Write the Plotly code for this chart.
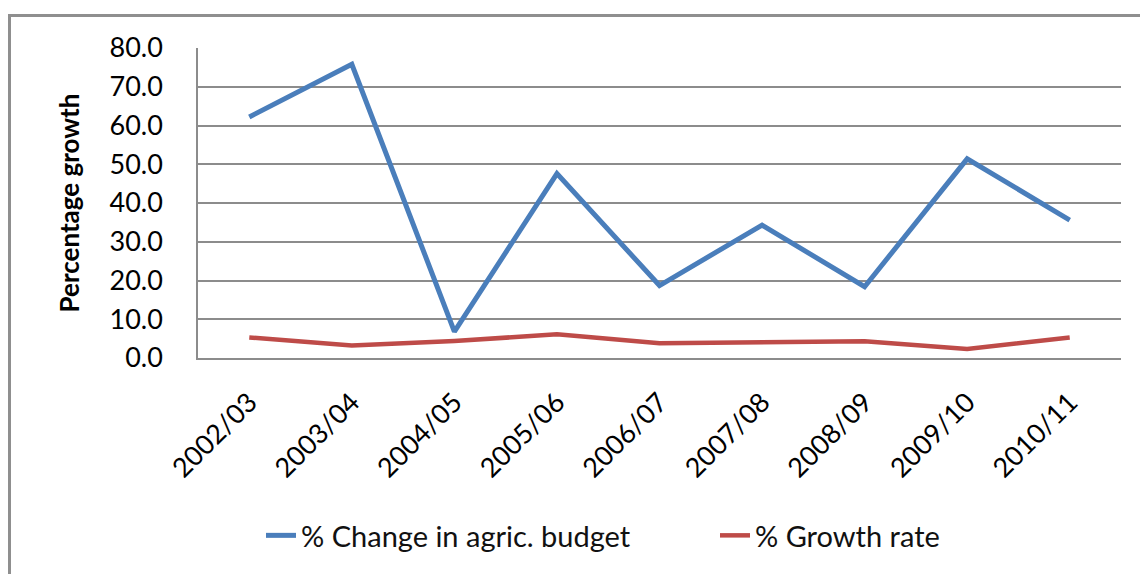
import plotly.graph_objects as go

# Fiscal years on the category axis
years = ["2002/03", "2003/04", "2004/05", "2005/06", "2006/07",
         "2007/08", "2008/09", "2009/10", "2010/11"]

# Annual % change in the agricultural budget
agric_budget_change = [62.2, 75.8, 6.8, 47.6, 18.7, 34.3, 18.4, 51.4, 35.6]

# Annual % growth rate
growth_rate = [5.3, 3.2, 4.4, 6.1, 3.8, 4.0, 4.3, 2.3, 5.3]

y_ticks = [0, 10, 20, 30, 40, 50, 60, 70, 80]

W, H = 1140, 574
L, R, T, B = 198, 19, 48, 216
plot_w = W - L - R
plot_h = H - T - B


def px_x(px):
    return (px - L) / plot_w


def px_y(py):
    return (H - B - py) / plot_h


FONT = "Lato, 'Open Sans', sans-serif"
GRID = "#8c8c8c"

fig = go.Figure()
fig.add_trace(go.Scatter(
    x=years, y=agric_budget_change, mode="lines",
    name="% Change in agric. budget",
    line=dict(color="#4A7EBB", width=5, shape="linear"),
))
fig.add_trace(go.Scatter(
    x=years, y=growth_rate, mode="lines",
    name="% Growth rate",
    line=dict(color="#BE4B48", width=4.5),
))

fig.update_layout(
    width=W, height=H,
    margin=dict(l=L, r=R, t=T, b=B),
    paper_bgcolor="white", plot_bgcolor="white",
    font=dict(family=FONT, color="#000000"),
    showlegend=True,
    legend=dict(
        orientation="h",
        xref="container", yref="container",
        x=261 / W, y=1 - 510 / H,
        xanchor="left", yanchor="top",
        font=dict(size=29, family=FONT, color="#111111"),
        entrywidth=409, entrywidthmode="pixels",
        bgcolor="rgba(0,0,0,0)",
    ),
    xaxis=dict(
        type="category",
        tickangle=-45,
        tickfont=dict(size=27, family=FONT, color="#000000"),
        showgrid=False,
        showline=True, linecolor=GRID, linewidth=1.5,
        ticks="",
        ticklabelstandoff=16,
        range=[-0.5, len(years) - 0.5],
        fixedrange=True,
    ),
    yaxis=dict(
        range=[0, 80],
        tickvals=y_ticks,
        tickformat=".1f",
        tickfont=dict(size=27, family=FONT, color="#000000"),
        showgrid=True, gridcolor=GRID, gridwidth=1.5,
        showline=True, linecolor=GRID, linewidth=1.5,
        zeroline=False,
        ticks="",
        ticklabelstandoff=28,
        title=dict(text="<b>Percentage growth</b>",
                   font=dict(size=26, family=FONT, color="#000000"),
                   standoff=22),
        fixedrange=True,
    ),
    shapes=[
        # chart-area frame
        dict(type="rect", xref="paper", yref="paper",
             x0=px_x(9.5), x1=px_x(1150), y0=px_y(590), y1=px_y(15.5),
             line=dict(color="#8f8f8f", width=3), fillcolor="rgba(0,0,0,0)",
             layer="below"),
    ],
)

fig.write_html("out.html")
